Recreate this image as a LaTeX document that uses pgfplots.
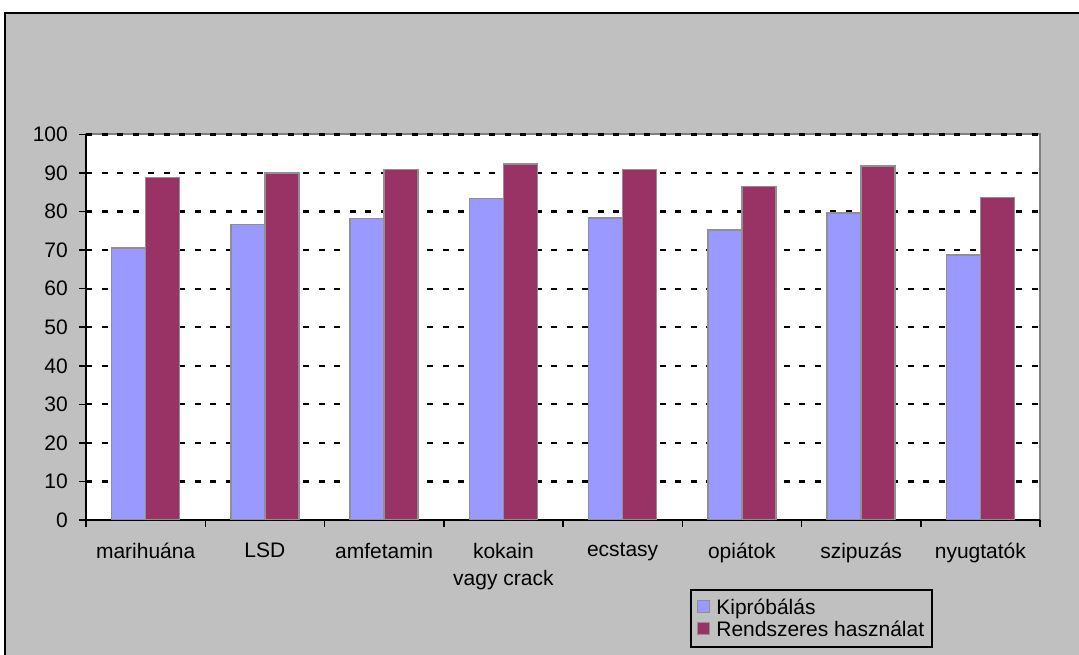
\documentclass[border=0pt]{standalone}
\usepackage{fontspec}
\setmainfont{Liberation Sans}
\usepackage{pgfplots}
\pgfplotsset{compat=1.18}

\definecolor{bggray}{HTML}{C0C0C0}
\definecolor{kblue}{HTML}{9999FF}
\definecolor{rmaroon}{HTML}{993366}
\definecolor{edgegray}{HTML}{909090}
\definecolor{framegray}{HTML}{808080}

\begin{document}
\begin{tikzpicture}
  % page frame: white strip on top, grey chart area with a black edge
  \path[use as bounding box] (0pt,0pt) rectangle (1079pt,655pt);
  \fill[white] (0pt,0pt) rectangle (1079pt,655pt);
  \fill[bggray] (5pt,0pt) rectangle (1079pt,642pt);
  \draw[black, line width=2pt] (5pt,0pt) -- (5pt,642pt) -- (1079pt,642pt);

  \begin{axis}[
      at={(86pt,135pt)}, anchor=south west,
      scale only axis,
      width=954pt, height=385.5pt,
      font=\fontsize{21}{25}\selectfont,
      /pgf/number format/assume math mode=true,
      ybar=0pt, bar width=34pt,
      xmin=0.5, xmax=8.5,
      ymin=0, ymax=100,
      ytick={0,10,...,100},
      xtick={0.5,1.5,...,8.5},
      x tick label as interval,
      xticklabels={marihuána, LSD, amfetamin, {kokain\\vagy crack},
                   ecstasy, opiátok, szipuzás, nyugtatók},
      xticklabel style={align=center, anchor=north, inner sep=0pt, yshift=-16pt,
                        font=\fontsize{21}{27}\selectfont},
      yticklabel style={anchor=east, inner sep=0pt, xshift=-11pt},
      axis lines=left,
      axis line style={-, black, line width=2pt},
      tick align=outside,
      major tick length=7pt,
      tick style={black, line width=1.5pt},
      ymajorgrids,
      major grid style={black, line width=2.3pt, dash pattern=on 6pt off 9.5pt},
      axis background/.style={fill=white, draw=framegray, line width=2pt},
      legend cell align=left,
      legend style={
        at={(0.633,-0.179)}, anchor=north west,
        draw=black, line width=2pt, fill=bggray,
        font=\fontsize{21}{25}\selectfont,
        inner xsep=6pt, inner ysep=7pt,
        nodes={inner sep=2pt},
        row sep=1pt, column sep=4pt,
      },
    ]
    % Kipróbálás
    \addplot[fill=kblue, draw=edgegray, line width=1.5pt,
      legend image code/.code={\draw[fill=kblue, draw=edgegray, line width=1.5pt] (0pt,-5pt) rectangle (12pt,7pt);}]
      coordinates {(1,70.6) (2,76.7) (3,78.2) (4,83.4) (5,78.3) (6,75.2) (7,79.6) (8,68.8)};
    % Rendszeres használat
    \addplot[fill=rmaroon, draw=edgegray, line width=1.5pt,
      legend image code/.code={\draw[fill=rmaroon, draw=edgegray, line width=1.5pt] (0pt,-5pt) rectangle (12pt,7pt);}]
      coordinates {(1,88.9) (2,90.0) (3,90.9) (4,92.3) (5,90.9) (6,86.5) (7,91.8) (8,83.7)};
    \legend{Kipróbálás, Rendszeres használat}
  \end{axis}
\end{tikzpicture}
\end{document}
